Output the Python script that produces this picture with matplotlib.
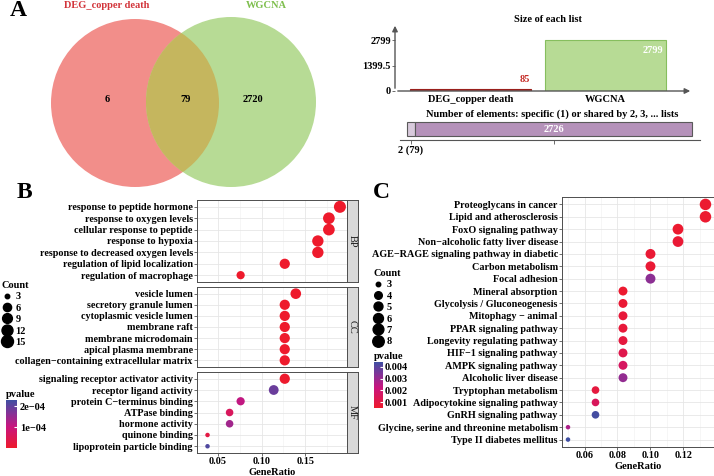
import numpy as np
import matplotlib
matplotlib.use("Agg")
import matplotlib.pyplot as plt
from matplotlib.patches import Circle
from matplotlib.colors import LinearSegmentedColormap, Normalize
from matplotlib.lines import Line2D

plt.rcParams["font.family"] = ["Liberation Serif", "DejaVu Serif"]
plt.rcParams["font.weight"] = "bold"
plt.rcParams["axes.labelweight"] = "bold"
plt.rcParams["axes.titleweight"] = "bold"

W, H = 714, 476

# ---- panel A data
set_names = ["DEG_copper death", "WGCNA"]
set_colors = ["#D2343A", "#7DBE4C"]
set_sizes = [85, 2799]
venn_counts = [6, 79, 2720]  # only left, shared, only right
elem_labels = ["2 (79)", ""]
elem_counts = [79, 2726]

# ---- panel B data (GO), GeneRatio = Count / 79
go_total = 79
bp_terms = ["response to peptide hormone", "response to oxygen levels",
            "cellular response to peptide", "response to hypoxia",
            "response to decreased oxygen levels", "regulation of lipid localization",
            "regulation of macrophage"]
bp_count = [15, 14, 14, 13, 13, 10, 6]
bp_p = [1e-7, 1e-7, 1e-7, 1e-7, 1e-7, 2e-7, 3e-7]

cc_terms = ["vesicle lumen", "secretory granule lumen", "cytoplasmic vesicle lumen",
            "membrane raft", "membrane microdomain", "apical plasma membrane",
            "collagen\u2212containing extracellular matrix"]
cc_count = [11, 10, 10, 10, 10, 10, 10]
cc_p = [1e-7, 1e-7, 1e-7, 2e-7, 2e-7, 3e-7, 4e-7]

mf_terms = ["signaling receptor activator activity", "receptor ligand activity",
            "protein C\u2212terminus binding", "ATPase binding", "hormone activity",
            "quinone binding", "lipoprotein particle binding"]
mf_count = [10, 9, 6, 5, 5, 3, 3]
mf_p = [2e-6, 1.9e-4, 1.1e-4, 6e-5, 1.4e-4, 3e-5, 2.15e-4]

# ---- panel C data (KEGG), GeneRatio = Count / 60
kegg_total = 60
kegg_terms = ["Proteoglycans in cancer", "Lipid and atherosclerosis",
              "FoxO signaling pathway", "Non\u2212alcoholic fatty liver disease",
              "AGE\u2212RAGE signaling pathway in diabetic", "Carbon metabolism",
              "Focal adhesion", "Mineral absorption", "Glycolysis / Gluconeogenesis",
              "Mitophagy \u2212 animal", "PPAR signaling pathway",
              "Longevity regulating pathway", "HIF\u22121 signaling pathway",
              "AMPK signaling pathway", "Alcoholic liver disease",
              "Tryptophan metabolism", "Adipocytokine signaling pathway",
              "GnRH signaling pathway", "Glycine, serine and threonine metabolism",
              "Type II diabetes mellitus"]
kegg_count = [8, 8, 7, 7, 6, 6, 6, 5, 5, 5, 5, 5, 5, 5, 5, 4, 4, 4, 3, 3]
kegg_p = [0.0006, 0.0006, 0.0006, 0.0007, 0.0007, 0.0007, 0.0032, 0.0006, 0.0007,
          0.0008, 0.0008, 0.0009, 0.0012, 0.0016, 0.0031, 0.0009, 0.0015, 0.0043,
          0.0027, 0.0044]

cmap = LinearSegmentedColormap.from_list(
    "redblue", [(0, "#EE1A2C"), (0.45, "#C8157F"), (0.75, "#7E3598"), (1, "#3F4FA2")])

fig = plt.figure(figsize=(W / 100, H / 100), dpi=100)


def px_axes(l, t, r, b):
    return fig.add_axes([l / W, 1 - b / H, (r - l) / W, (b - t) / H])


def fig_text(x, y, s, **kw):
    return fig.text(x / W, 1 - y / H, s, **kw)


# ================= A: venn
ax = px_axes(40, 0, 330, 195)
ax.set_xlim(40, 330)
ax.set_ylim(195, 0)
ax.axis("off")
left = Circle((135, 103), 84, fc="#F28E8A", ec="none")
right = Circle((231, 102), 85, fc="#B7DB95", ec="none")
both = Circle((231, 102), 85, fc="#C5B65E", ec="none")
ax.add_patch(left)
ax.add_patch(right)
ax.add_patch(both)
both.set_clip_path(left)
for name, x, col in zip(set_names, [107, 266], set_colors):
    ax.text(x, 6, name, ha="center", va="center", color=col, fontsize=7.5)
for n, x in zip(venn_counts, [107, 186, 253]):
    ax.text(x, 100, str(n), ha="center", va="center", fontsize=7.5)

# ================= A: size of each list
ax = px_axes(395, 23, 693, 91)
xb = np.arange(len(set_sizes))
ax.bar(xb, set_sizes, width=0.896, color=["#B22F2A", "#B7DB95"],
       edgecolor=["#9A1F1B", "#86BE5E"], lw=0.8)
ax.set_xlim(-0.559, 1.648)
ax.set_ylim(0, 3732)
ax.set_yticks([0, set_sizes[1] / 2, set_sizes[1]], ["0", "1399.5", "2799"])
ax.set_xticks(xb, set_names)
for s in ax.spines.values():
    s.set_visible(False)
ax.tick_params(axis="x", length=0, pad=3, labelsize=7.5)
ax.tick_params(axis="y", length=2, width=0.6, color="#555555", pad=1, labelsize=7.5)
ax.annotate("", xy=(1, 0), xytext=(0, 0), xycoords="axes fraction",
            arrowprops=dict(arrowstyle="-|>", color="#555555", lw=1, mutation_scale=8))
ax.annotate("", xy=(0, 1), xytext=(0, 0), xycoords="axes fraction",
            arrowprops=dict(arrowstyle="-|>", color="#555555", lw=1, mutation_scale=8))
ax.annotate(str(set_sizes[0]), xy=(0.448, set_sizes[0]), xytext=(-1, 4),
            textcoords="offset points", ha="right", va="bottom", color="#C62F2A", fontsize=7.5)
ax.annotate(str(set_sizes[1]), xy=(1.448, set_sizes[1]), xytext=(-2, -4),
            textcoords="offset points", ha="right", va="top", color="white", fontsize=7.5)
fig_text(548, 20, "Size of each list", ha="center", va="center", fontsize=7.5)

# ================= A: number of elements
ax = px_axes(400, 118, 700, 140)
lefts = np.concatenate([[0], np.cumsum(elem_counts)[:-1]])
ax.barh(0.5, elem_counts, left=lefts, height=1, color=["#D8CADC", "#B592BA"],
        edgecolor="#5A5A5A", lw=0.8)
ax.set_xlim(-69, 2884)
ax.set_ylim(-0.286, 1.286)
ax.set_xticks(lefts + np.array(elem_counts) / 2, elem_labels)
ax.set_yticks([])
ax.text(lefts[1] + elem_counts[1] / 2, 0.5, str(elem_counts[1]), color="white",
        ha="center", va="center", fontsize=7.5)
for k in ["left", "right", "top"]:
    ax.spines[k].set_visible(False)
ax.spines["bottom"].set_color("#555555")
ax.tick_params(axis="x", length=3, width=0.6, color="#555555", pad=1, labelsize=7.5)
fig_text(552, 114, "Number of elements: specific (1) or shared by 2, 3, ... lists",
         ha="center", va="center", fontsize=7.5)


# ================= dot plots
def size_fn(counts, cmin, cmax, dmin, dmax):
    c = np.asarray(counts, float)
    d = dmin + (dmax - dmin) * np.sqrt((c - cmin) / (cmax - cmin))
    return d * 0.72  # px -> points


def dot_panel(ax, terms, ratio, sizes_pt, pvals, norm, xlim, major, minor):
    y = np.arange(len(terms))
    sc = ax.scatter(ratio, y, s=sizes_pt ** 2, c=pvals, cmap=cmap, norm=norm,
                    edgecolors="none", zorder=3, clip_on=False)
    ax.set_yticks(y, terms)
    ax.set_ylim(len(terms) - 0.4, -0.6)
    ax.set_xlim(*xlim)
    ax.set_xticks(major)
    ax.set_xticks(minor, minor=True)
    ax.grid(True, which="major", color="#E6E6E6", lw=0.6)
    ax.grid(True, which="minor", axis="x", color="#F0F0F0", lw=0.4)
    ax.set_axisbelow(True)
    ax.tick_params(length=2, width=0.5, color="#333333", labelsize=7.3, pad=1)
    ax.tick_params(which="minor", length=0)
    for s in ax.spines.values():
        s.set_color("#4D4D4D")
        s.set_linewidth(0.7)
    return sc


def strip(t, b, label):
    sa = px_axes(347, t, 358, b)
    sa.set_facecolor("#D9D9D9")
    sa.set_xticks([])
    sa.set_yticks([])
    for s in sa.spines.values():
        s.set_color("#4D4D4D")
        s.set_linewidth(0.7)
    sa.text(0.5, 0.5, label, rotation=-90, ha="center", va="center",
            fontsize=7.5, fontweight="normal", transform=sa.transAxes, color="#1A1A1A")


def count_legend(values, sizes_pt, x, y):
    handles = [Line2D([], [], marker="o", ls="", color="black", markersize=m)
               for m in sizes_pt]
    fig.legend(handles, [str(v) for v in values], title="Count", loc="upper left",
               bbox_to_anchor=(x / W, 1 - y / H), frameon=False, fontsize=7.5,
               title_fontsize=7.5, borderpad=0, borderaxespad=0, handlelength=1.0,
               handletextpad=0.3, labelspacing=0.2, alignment="left")


# ---- B
b_norm = Normalize(0, 2.3e-4)
bmin, bmax = 3, 15
facets = [("BP", bp_terms, bp_count, bp_p, 200, 282),
          ("CC", cc_terms, cc_count, cc_p, 287, 367),
          ("MF", mf_terms, mf_count, mf_p, 372, 453)]
for i, (lab, terms, cnt, pv, t, b) in enumerate(facets):
    ax = px_axes(197, t, 347, b)
    sc_b = dot_panel(ax, terms, np.array(cnt) / go_total,
                     size_fn(cnt, bmin, bmax, 4.5, 12), pv, b_norm,
                     (0.0259, 0.198), [0.05, 0.10, 0.15], [0.075, 0.125, 0.175])
    strip(t, b, lab)
    if i < 2:
        ax.tick_params(axis="x", bottom=False, labelbottom=False)
    else:
        ax.set_xticks([0.05, 0.10, 0.15], ["0.05", "0.10", "0.15"])
        ax.set_xlabel("GeneRatio", fontsize=7.5, labelpad=1)

leg_b = [3, 6, 9, 12, 15]
count_legend(leg_b, size_fn(leg_b, bmin, bmax, 4.5, 12), 2, 281)
cax = px_axes(6, 400, 17, 448)
cb = fig.colorbar(sc_b, cax=cax)
cb.set_ticks([1e-4, 2e-4], labels=["1e\u221204", "2e\u221204"])
cb.outline.set_visible(False)
cax.tick_params(length=2.5, width=0.8, color="white", direction="in", labelsize=7.5, pad=2)
cax.set_title("pvalue", loc="left", fontsize=7.5, pad=2)

# ---- C
c_norm = Normalize(0.0005, 0.0044)
cmin, cmax = 3, 8
ax = px_axes(562, 197, 714, 447)
sc_c = dot_panel(ax, kegg_terms, np.array(kegg_count) / kegg_total,
                 size_fn(kegg_count, cmin, cmax, 4.5, 11.5), kegg_p, c_norm,
                 (0.04636, 0.1385), [0.06, 0.08, 0.10, 0.12], [0.05, 0.07, 0.09, 0.11, 0.13])
ax.set_xticks([0.06, 0.08, 0.10, 0.12], ["0.06", "0.08", "0.10", "0.12"])
ax.set_xlabel("GeneRatio", fontsize=7.5, labelpad=1)

leg_c = [3, 4, 5, 6, 7, 8]
count_legend(leg_c, size_fn(leg_c, cmin, cmax, 4.5, 11.5), 373, 269)
cax = px_axes(374, 362, 383, 408)
cb = fig.colorbar(sc_c, cax=cax)
cb.set_ticks([0.001, 0.002, 0.003, 0.004], labels=["0.001", "0.002", "0.003", "0.004"])
cb.outline.set_visible(False)
cax.tick_params(length=2.5, width=0.8, color="white", direction="in", labelsize=7.5, pad=1)
cax.set_title("pvalue", loc="left", fontsize=7.5, pad=2)

# panel letters
fig_text(18, 11, "A", ha="center", va="center", fontsize=17)
fig_text(24, 193, "B", ha="center", va="center", fontsize=17)
fig_text(381, 192, "C", ha="center", va="center", fontsize=17)

fig.savefig("out.png", dpi=100)
